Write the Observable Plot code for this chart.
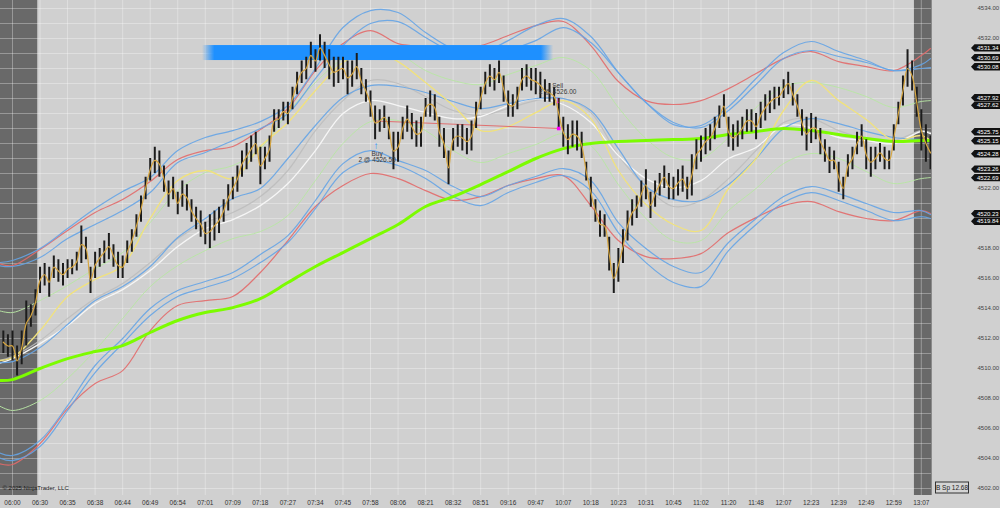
<!DOCTYPE html>
<html><head><meta charset="utf-8">
<script src="https://cdn.jsdelivr.net/npm/d3@7"></script>
<script src="https://cdn.jsdelivr.net/npm/@observablehq/plot@0.6"></script>
<style>
html,body{margin:0;padding:0;background:#d0d0d0;}
#chart{width:1000px;height:508px;overflow:hidden;}
svg{display:block}
</style></head><body><div id="chart"></div>
<script>
// ---------- data ----------
const timeLabels = ["06:00","06:30","06:35","06:38","06:44","06:49","06:54","07:01","07:09","07:18","07:27","07:34","07:45","07:58","08:06","08:21","08:32","08:51","09:16","09:47","10:07","10:18","10:23","10:31","10:45","11:02","11:20","11:48","12:07","12:23","12:39","12:49","12:59","13:07"];
const timeTickBars = [0,6,12,18,24,30,36,42,48,54,60,66,72,78,84,90,96,102,108,114,120,126,132,138,144,150,156,162,168,174,180,186,192,198];
const priceTicks = [4502,4504,4506,4508,4510,4512,4514,4516,4518,4520,4522,4524,4526,4528,4530,4532,4534];

const firstBar = -2;
const barHigh = [4512.5,4512.25,4512.5,4511.5,4512.5,4514.5,4514.25,4515.25,
4516.75,4517.0,4516.75,4517.5,4517.25,4517.0,
4517.25,4517.25,4517.75,4519.5,4518.75,4516.75,
4517.75,4518.0,4518.5,4519.0,4518.25,4517.75,
4517.5,4518.5,4519.25,4520.25,4521.5,4522.75,
4524.0,4524.75,4524.5,4523.5,4522.5,4522.75,
4521.75,4522.5,4522.25,4521.25,4520.75,4520.5,
4519.75,4520.25,4520.5,4520.75,4521.25,4522.25,
4522.75,4523.5,4524.5,4525.0,4525.5,4525.75,
4524.75,4524.75,4525.5,4527.25,4527.25,4527.75,
4527.75,4528.75,4529.75,4530.5,4530.75,4531.75,
4531.25,4532.25,4531.75,4531.25,4530.75,4530.75,
4530.75,4530.5,4530.5,4531.0,4530.0,4529.25,
4528.5,4527.5,4527.25,4527.5,4526.75,4525.75,
4525.75,4526.75,4527.5,4527.0,4526.5,4526.75,
4528.0,4528.5,4528.25,4526.75,4526.0,4524.5,
4526.0,4526.25,4526.25,4526.0,4526.5,4527.75,
4528.75,4529.75,4530.25,4530.0,4530.5,4529.5,
4528.5,4528.25,4528.75,4530.0,4530.25,4530.0,
4530.0,4529.75,4529.25,4529.0,4528.75,4528.0,
4526.75,4526.25,4526.5,4526.5,4525.75,4523.75,
4522.75,4521.25,4520.5,4520.25,4518.75,4517.0,
4518.0,4519.25,4520.5,4521.25,4521.5,4522.5,
4523.25,4521.75,4522.5,4523.0,4523.5,4523.0,
4522.75,4523.25,4523.5,4522.75,4524.25,4525.25,
4525.5,4526.0,4526.25,4526.75,4527.5,4528.25,
4526.75,4526.25,4526.5,4526.75,4527.25,4527.25,
4527.0,4527.75,4528.25,4528.5,4528.75,4528.75,
4529.25,4529.75,4529.0,4528.25,4527.25,4526.75,
4527.0,4526.75,4526.0,4525.25,4524.75,4524.5,
4523.75,4522.75,4524.25,4524.75,4525.75,4526.25,
4525.25,4524.75,4524.75,4525.0,4524.75,4524.5,
4526.25,4527.75,4529.5,4531.25,4530.5,4528.75,
4527.25,4526.25,4525.5];
const barLow = [4511.0,4510.75,4510.5,4509.5,4510.25,4511.5,4512.75,4513.5,
4515.0,4515.5,4514.75,4516.0,4515.75,4515.5,
4516.0,4516.25,4516.5,4517.0,4517.25,4515.0,
4516.0,4516.75,4517.0,4517.25,4516.75,4516.0,
4516.0,4517.0,4517.75,4518.75,4519.75,4521.25,
4522.5,4523.0,4522.75,4521.75,4520.75,4521.25,
4520.25,4520.75,4520.5,4519.75,4519.25,4518.75,
4518.25,4518.0,4518.5,4519.0,4519.75,4520.5,
4521.25,4521.75,4522.75,4523.25,4523.75,4524.25,
4522.25,4523.25,4523.75,4525.75,4526.0,4526.5,
4526.25,4527.25,4528.25,4529.0,4529.25,4530.0,
4529.75,4530.5,4530.0,4529.25,4528.75,4529.0,
4529.25,4528.25,4528.75,4529.25,4528.25,4527.75,
4526.75,4525.25,4525.75,4526.0,4525.25,4523.25,
4523.75,4525.25,4525.75,4525.25,4524.75,4524.75,
4526.75,4526.75,4526.5,4524.75,4524.0,4522.25,
4524.5,4524.75,4524.5,4524.25,4524.5,4526.0,
4527.25,4528.25,4528.75,4528.5,4529.0,4527.75,
4526.75,4526.75,4527.25,4528.5,4528.75,4528.5,
4528.25,4528.0,4527.75,4527.75,4527.5,4526.0,
4524.75,4524.25,4524.75,4524.5,4524.0,4522.5,
4520.75,4519.75,4518.75,4518.75,4516.5,4515.0,
4515.75,4517.0,4518.5,4519.5,4520.0,4520.75,
4521.25,4520.0,4520.75,4521.5,4522.0,4521.25,
4521.25,4521.5,4521.75,4521.25,4521.5,4523.25,
4523.75,4524.25,4524.5,4525.25,4526.0,4526.75,
4524.75,4524.5,4524.75,4525.25,4525.75,4525.75,
4525.25,4526.0,4526.5,4527.0,4527.25,4527.5,
4528.0,4528.25,4527.5,4526.75,4525.5,4524.5,
4525.0,4525.25,4524.25,4523.75,4523.0,4523.25,
4521.75,4521.25,4522.75,4523.25,4524.25,4524.75,
4523.25,4522.75,4523.25,4523.75,4523.25,4523.25,
4524.5,4526.25,4527.5,4528.75,4528.5,4526.75,
4524.5,4523.75,4523.25];

// indicator lines, sampled at these bars
const lineBars = [-3,0,6,12,18,24,30,36,42,48,54,60,66,72,78,84,90,96,102,108,114,120,126,132,138,144,150,156,162,168,174,180,186,192,198,200];
const upperBlueOuter = [4517.06,4517.20,4518.00,4519.33,4520.66,4521.80,4522.73,4524.53,4525.40,4525.86,4526.46,4527.53,4530.00,4532.73,4533.86,4533.73,4532.40,4531.33,4531.06,4531.86,4532.86,4533.33,4532.13,4529.73,4527.73,4526.26,4526.20,4527.46,4529.33,4531.06,4531.80,4531.13,4530.53,4529.86,4530.26,4530.66];
const upperBlueInner = [4516.86,4516.80,4517.40,4518.66,4519.60,4520.53,4521.73,4523.73,4524.40,4525.20,4526.00,4527.00,4529.33,4531.53,4533.00,4533.13,4532.06,4531.06,4530.66,4531.20,4531.86,4532.73,4531.73,4529.73,4527.73,4526.40,4526.06,4527.20,4528.93,4530.66,4531.20,4530.80,4530.40,4529.86,4530.00,4530.06];
const upperRed = [4517.00,4516.86,4517.93,4519.20,4520.40,4521.26,4522.46,4523.93,4524.53,4524.80,4525.93,4527.33,4529.86,4531.66,4532.53,4531.66,4531.46,4531.40,4531.53,4532.20,4532.86,4533.13,4531.53,4529.13,4527.86,4527.60,4527.86,4528.66,4529.66,4530.66,4531.13,4530.46,4530.13,4529.86,4530.86,4531.33];
const upperGreen = [4513.86,4513.73,4514.53,4515.53,4516.66,4517.73,4519.73,4521.86,4523.06,4523.53,4524.66,4527.06,4529.06,4530.66,4531.40,4531.00,4529.86,4529.20,4528.93,4529.60,4530.20,4530.73,4529.86,4527.40,4525.33,4524.06,4524.00,4525.40,4527.40,4528.80,4529.06,4528.73,4528.13,4527.40,4527.80,4527.86];
const lowerGreen = [4507.53,4507.20,4507.86,4509.33,4511.20,4513.33,4515.46,4516.86,4517.86,4518.66,4519.13,4520.20,4522.53,4525.00,4526.46,4526.53,4525.86,4524.53,4523.73,4524.33,4524.93,4525.66,4524.86,4522.26,4520.00,4518.53,4518.53,4520.53,4522.00,4523.66,4524.33,4524.00,4523.13,4522.33,4522.66,4522.73];
const yellowMA = [4510.53,4510.73,4512.53,4514.80,4515.93,4516.86,4520.00,4522.53,4523.20,4522.66,4524.80,4526.40,4528.53,4530.40,4531.20,4530.46,4529.06,4527.53,4525.86,4526.13,4527.06,4527.86,4526.66,4523.20,4520.93,4519.60,4519.20,4522.00,4524.00,4527.20,4529.20,4527.86,4526.60,4525.20,4525.53,4525.20];
const whiteMA = [4510.33,4510.66,4511.66,4512.86,4514.33,4515.26,4516.53,4518.13,4519.33,4519.93,4520.86,4522.33,4524.53,4527.00,4527.86,4527.53,4527.06,4526.66,4526.80,4527.53,4528.00,4527.60,4526.40,4524.20,4522.66,4522.06,4522.53,4524.00,4524.73,4526.20,4526.06,4525.40,4525.20,4525.00,4525.80,4525.66];
const grayMA = [4510.53,4510.80,4511.86,4513.33,4514.66,4515.66,4517.06,4518.66,4519.73,4520.40,4521.46,4523.20,4525.86,4527.86,4529.20,4529.00,4528.13,4527.20,4526.86,4527.33,4527.86,4528.00,4527.06,4524.20,4522.13,4520.80,4521.20,4522.66,4524.53,4526.40,4526.66,4525.86,4525.33,4525.20,4525.86,4525.73];
const middleBlue = [4510.40,4510.46,4511.40,4512.93,4514.53,4515.46,4516.80,4518.73,4520.00,4521.33,4522.00,4524.00,4526.20,4528.06,4528.86,4528.80,4528.40,4527.80,4527.33,4527.66,4528.00,4528.00,4527.20,4524.66,4522.13,4521.26,4521.20,4522.26,4524.00,4526.00,4526.66,4526.33,4525.80,4525.40,4525.26,4525.20];
const slowGreen = [4509.20,4509.26,4510.00,4510.66,4511.13,4511.53,4512.40,4513.20,4513.73,4514.06,4514.66,4515.73,4516.80,4517.73,4518.66,4519.60,4520.80,4521.46,4522.26,4523.13,4524.00,4524.66,4525.00,4525.13,4525.20,4525.26,4525.33,4525.60,4525.80,4526.00,4525.86,4525.60,4525.33,4525.13,4525.20,4525.20];
const lowerBlueInner = [4504.40,4504.20,4505.20,4507.53,4510.20,4512.00,4514.00,4515.20,4515.80,4516.40,4517.60,4518.86,4521.20,4523.66,4524.53,4523.86,4523.20,4522.13,4521.46,4522.20,4522.80,4523.33,4522.53,4519.73,4518.00,4516.80,4516.40,4518.40,4520.00,4521.46,4522.13,4521.66,4521.00,4520.40,4520.53,4520.26];
const lowerBlueOuter = [4504.06,4503.86,4504.80,4507.20,4509.73,4511.66,4513.53,4514.80,4515.40,4516.00,4517.06,4518.40,4520.66,4523.06,4523.86,4523.53,4522.66,4521.46,4520.86,4521.73,4522.40,4522.86,4521.86,4519.06,4517.06,4515.73,4515.46,4517.86,4519.60,4521.06,4521.73,4521.20,4520.53,4519.86,4520.13,4520.00];
const lowerRed = [4503.66,4503.60,4505.00,4507.33,4509.00,4509.86,4512.53,4514.20,4514.53,4514.80,4516.40,4518.53,4520.80,4522.20,4523.00,4522.66,4521.86,4521.20,4521.46,4522.20,4522.66,4522.86,4520.86,4518.53,4517.46,4517.33,4517.66,4519.06,4520.06,4520.86,4521.13,4520.46,4520.00,4519.86,4520.53,4520.33];

const pillValues = [4531.34,4530.69,4530.08,4527.92,4527.62,4525.75,4525.15,4524.28,4523.26,4522.69,4520.23,4519.84];
const sessionBreaks = [[-3, 5.5], [196.5, 201]];
const zone = {bar1: 41.4, bar2: 117.9, top: 4531.53, bottom: 4530.53};
const trades = [{side: "Buy", bar: 79, qty: 2, price: 4526.50}, {side: "Sell", bar: 119, qty: 2, price: 4526.00}];
const spreadLabel = "B Sp 12.68";
const copyright = "© 2025 NinjaTrader, LLC";

// ---------- layout helpers ----------
const W = 1000, H = 508, mRight = 69, mBottom = 13;
const xDomain = [-2.614, 200.22];
const yDomain = [4501.533, 4534.533];
const yScale = Plot.scale({y: {domain: yDomain, range: [H - mBottom, 0]}});
const fontFamily = "'Liberation Sans', Arial, sans-serif";

// pill label positions (nudged apart like the platform does)
const PILL_H = 7.4, PILL_GAP = 7.6;
const pills = pillValues.map(v => ({v, y: yScale.apply(v)})).sort((a, b) => a.y - b.y);
for (let iter = 0; iter < 20; iter++) {
  for (let k = 1; k < pills.length; k++) {
    const d = pills[k].y - pills[k - 1].y;
    if (d < PILL_GAP) {
      const s = (PILL_GAP - d) / 2;
      pills[k - 1].y -= s; pills[k].y += s;
    }
  }
}
const visibleTicks = priceTicks.filter(t => pills.every(p => Math.abs(yScale.apply(t) - p.y) > 7.5));

// ---------- tables ----------
const bars = barHigh.map((h, k) => ({i: firstBar + k, high: h, low: barLow[k]}));
const series = [
  {values: lowerGreen, stroke: "#b8e6a4", w: 1, o: 0.95},
  {values: upperGreen, stroke: "#b8e6a4", w: 1, o: 0.95},
  {values: grayMA, stroke: "#bcbcbc", w: 1.2, o: 0.9},
  {values: whiteMA, stroke: "#f6f6f6", w: 1.3, o: 1},
  {values: middleBlue, stroke: "#65a4e6", w: 1.2, o: 0.9},
  {values: yellowMA, stroke: "#f1e27c", w: 1.3, o: 1},
  {values: upperRed, stroke: "#e26a6a", w: 1.2, o: 0.9},
  {values: upperBlueInner, stroke: "#65a4e6", w: 1.2, o: 0.9},
  {values: upperBlueOuter, stroke: "#65a4e6", w: 1.2, o: 0.9},
  {values: lowerRed, stroke: "#e26a6a", w: 1.2, o: 0.9},
  {values: lowerBlueInner, stroke: "#65a4e6", w: 1.2, o: 0.9},
  {values: lowerBlueOuter, stroke: "#65a4e6", w: 1.2, o: 0.9},
  {values: slowGreen, stroke: "#7cfc00", w: 3, o: 1}
];
const lineMarks = series.map(s => Plot.line(s.values.map((v, k) => ({bar: lineBars[k], value: v})),
  {x: "bar", y: "value", stroke: s.stroke, strokeWidth: s.w, strokeOpacity: s.o, curve: "catmull-rom"}));

const buy = trades.filter(t => t.side === "Buy").map(t => ({...t, low: bars.find(b => b.i === t.bar).low}));
const sell = trades.filter(t => t.side === "Sell").map(t => ({...t, high: bars.find(b => b.i === t.bar).high}));
const tradeLink = [{b1: trades[0].bar, p1: trades[0].price, b2: trades[1].bar, p2: trades[1].price}];

function rightPanel(index, scales, values, dimensions) {
  const {width, height, marginRight, marginBottom} = dimensions;
  const xr = width - marginRight;
  const g = d3.create("svg:g").attr("font-family", fontFamily).attr("text-anchor", "start");
  g.append("line").attr("x1", xr + 0.5).attr("x2", xr + 0.5).attr("y1", 0).attr("y2", height - marginBottom)
    .attr("stroke", "#8a8a8a").attr("stroke-width", 1);
  for (const p of pills) {
    const gp = g.append("g").attr("transform", `translate(0,${p.y})`);
    const h = PILL_H / 2;
    gp.append("path").attr("d", `M${xr + 40},0 L${xr + 43.5},${-h} L${width},${-h} L${width},${h} L${xr + 43.5},${h} Z`)
      .attr("fill", "#121212");
    gp.append("text").attr("x", xr + 46).attr("y", 0).attr("dy", "0.35em").attr("text-anchor", "start")
      .attr("fill", "#ffffff").attr("font-size", 6).text(p.v.toFixed(2));
  }
  const by = height - marginBottom - 13;
  g.append("rect").attr("x", xr + 4.5).attr("y", by).attr("width", 33).attr("height", 11)
    .attr("fill", "#d4d4d4").attr("stroke", "#333").attr("stroke-width", 1);
  g.append("text").attr("x", xr + 21).attr("y", by + 5.5).attr("dy", "0.35em").attr("text-anchor", "middle")
    .attr("fill", "#222").attr("font-size", 6.5).text(spreadLabel);
  return g.node();
}

const chart = Plot.plot({
  width: W,
  height: H,
  marginLeft: 0,
  marginRight: mRight,
  marginTop: 0,
  marginBottom: mBottom,
  style: {background: "#d0d0d0", fontFamily, fontSize: "6px", color: "#333"},
  x: {type: "linear", domain: xDomain, axis: null},
  y: {domain: yDomain, axis: null},
  marks: [
    Plot.rect(sessionBreaks, {x1: d => d[0], x2: d => d[1], fill: "#696969", clip: true}),
    Plot.gridY(d3.range(4502, 4535, 1), {stroke: "#ffffff", strokeOpacity: 0.32, strokeWidth: 1}),
    Plot.gridX(timeTickBars, {stroke: "#ffffff", strokeOpacity: 0.32, strokeWidth: 1}),
    ...lineMarks,
    Plot.rect([zone], {x1: "bar1", x2: "bar2", y1: "bottom", y2: "top", fill: "url(#zoneGrad)"}),
    Plot.link(tradeLink, {x1: "b1", y1: "p1", x2: "b2", y2: "p2", stroke: "#e07070", strokeWidth: 1}),
    Plot.ruleX(bars, {x: "i", y1: "low", y2: "high", stroke: "#1c1c1c", strokeWidth: 2}),
    Plot.line(bars, {x: "i", y: d => (d.high + d.low) / 2, stroke: "#d7a640", strokeWidth: 1.2, curve: "catmull-rom"}),
    Plot.dot(sell, {x: "bar", y: "price", symbol: "square", r: 2, fill: "#ff00ff"}),
    Plot.text(buy, {x: "bar", y: "low", text: () => "↑", dy: 6, dx: 1, fill: "#1e90ff", fontSize: 10, fontWeight: "bold"}),
    Plot.text(buy, {x: "bar", y: "low", text: d => d.side, dy: 14, dx: 2, fill: "#3a3a3a", fontSize: 6.5}),
    Plot.text(buy, {x: "bar", y: "low", text: d => `${d.qty} @ ${d.price.toFixed(2)}`, dy: 20.5, dx: 2, fill: "#3a3a3a", fontSize: 6.5}),
    Plot.text(sell, {x: "bar", y: "high", text: d => d.side, dy: -13, dx: -1, fill: "#3a3a3a", fontSize: 6.5}),
    Plot.text(sell, {x: "bar", y: "high", text: d => `${d.qty} @ ${d.price.toFixed(2)}`, dy: -6.5, dx: -1, fill: "#3a3a3a", fontSize: 6.5}),
    Plot.text(sell, {x: "bar", y: "high", text: () => "↓", dy: 1.5, dx: -1, fill: "#ff00ff", fontSize: 9, fontWeight: "bold"}),
    Plot.text([copyright], {frameAnchor: "bottom-left", text: d => d, dx: 2, dy: -6, textAnchor: "start", fill: "#1a1a1a", fontSize: 6}),
    Plot.axisY(visibleTicks, {anchor: "right", tickSize: 0, tickPadding: 46, tickFormat: d => d.toFixed(2), fontSize: 6, fill: "#444"}),
    Plot.axisX(timeTickBars, {anchor: "bottom", tickSize: 0, tickPadding: 4.5, tickFormat: d => timeLabels[timeTickBars.indexOf(d)], fontSize: 6.5, fill: "#333"}),
    rightPanel
  ]
});

const defs = d3.select(chart).insert("defs", ":first-child");
const grad = defs.append("linearGradient").attr("id", "zoneGrad").attr("x1", "0").attr("x2", "1").attr("y1", "0").attr("y2", "0");
[[0, 0], [0.035, 1], [0.965, 1], [1, 0]].forEach(([o, a]) =>
  grad.append("stop").attr("offset", o).attr("stop-color", "#1e90ff").attr("stop-opacity", a));

document.getElementById("chart").appendChild(chart);
</script></body></html>
